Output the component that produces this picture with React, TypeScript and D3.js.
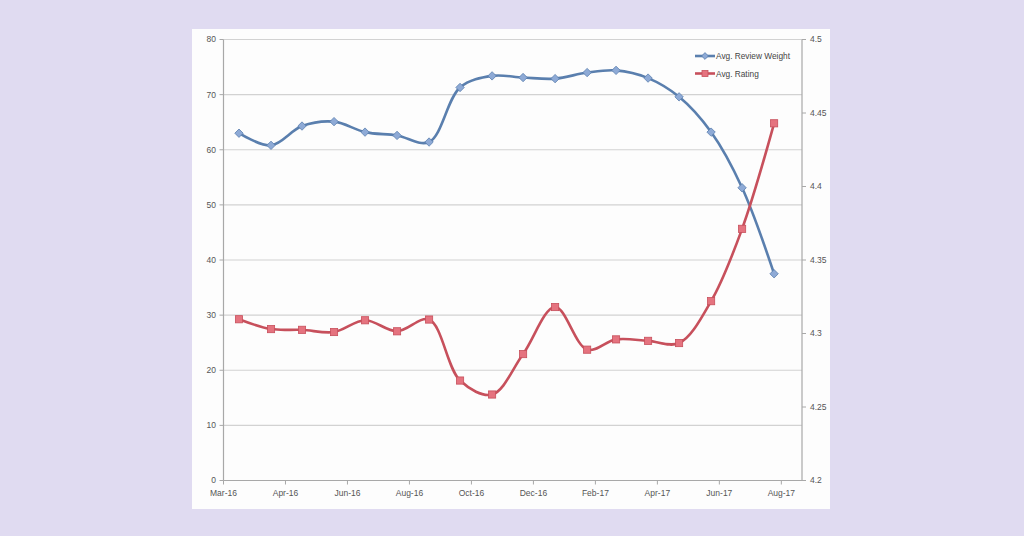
import React from "react";
import * as d3 from "d3";

const months = [
  "2016-03-16", "2016-04-16", "2016-05-16", "2016-06-16", "2016-07-16", "2016-08-16",
  "2016-09-16", "2016-10-16", "2016-11-16", "2016-12-16", "2017-01-16", "2017-02-16",
  "2017-03-16", "2017-04-16", "2017-05-16", "2017-06-16", "2017-07-16", "2017-08-16",
];
const reviewWeight = [63, 60.8, 64.3, 65.1, 63.2, 62.6, 61.4, 71.3, 73.4, 73.1, 72.9, 74.0, 74.4, 73.0, 69.6, 63.2, 53.1, 37.5];
const avgRating = [4.3097, 4.303, 4.3025, 4.301, 4.309, 4.3015, 4.3095, 4.268, 4.2585, 4.286, 4.318, 4.289, 4.296, 4.295, 4.2935, 4.322, 4.3712, 4.443];
const xTickDates = [
  "2016-03-01", "2016-04-30", "2016-06-29", "2016-08-28", "2016-10-27",
  "2016-12-26", "2017-02-24", "2017-04-25", "2017-06-24", "2017-08-23",
];
const leftTicks = [0, 10, 20, 30, 40, 50, 60, 70, 80];
const rightTicks = [4.2, 4.25, 4.3, 4.35, 4.4, 4.45, 4.5];
const xDomain = ["2016-03-01", "2017-09-12"];
const seriesNames = ["Avg. Review Weight", "Avg. Rating"];

const W = 1024, H = 536;
const plot = { left: 223.5, right: 802, top: 39.5, bottom: 480.5 };
const BLUE = "#5a7fae", BLUE_FILL = "#8eaad6";
const RED = "#c7505c", RED_FILL = "#e5737f";
const FONT = "'Liberation Sans', Arial, sans-serif";

export default function App() {
  const parse = d3.timeParse("%Y-%m-%d");
  const fmt = d3.timeFormat("%b-%y");
  const x = d3.scaleTime().domain(xDomain.map((d) => parse(d) as Date)).range([plot.left, plot.right]);
  const yL = d3.scaleLinear().domain([0, 80]).range([plot.bottom, plot.top]);
  const yR = d3.scaleLinear().domain([4.2, 4.5]).range([plot.bottom, plot.top]);
  const dates = months.map((d) => parse(d) as Date);

  const lineL = d3.line<number>().x((_, i) => x(dates[i])).y((d) => yL(d)).curve(d3.curveCatmullRom.alpha(0.5));
  const lineR = d3.line<number>().x((_, i) => x(dates[i])).y((d) => yR(d)).curve(d3.curveCatmullRom.alpha(0.5));

  const diamond = (cx: number, cy: number, r: number) => `M${cx},${cy - r}L${cx + r},${cy}L${cx},${cy + r}L${cx - r},${cy}Z`;

  return (
    <div style={{ position: "absolute", left: 0, top: 0 }}>
      <svg width={W} height={H} style={{ display: "block" }}>
        <rect x={0} y={0} width={W} height={H} fill="#e0dbf1" />
        <rect x={192} y={29} width={638} height={480} fill="#fdfdfd" />
        {/* gridlines */}
        {leftTicks.map((t) => (
          <line key={"g" + t} x1={plot.left} x2={plot.right} y1={yL(t)} y2={yL(t)} stroke="#d2d2d2" strokeWidth={1.2} />
        ))}
        {/* axes */}
        <line x1={plot.left} x2={plot.left} y1={plot.top} y2={plot.bottom} stroke="#a8a8a8" strokeWidth={1.2} />
        <line x1={plot.right} x2={plot.right} y1={plot.top} y2={plot.bottom} stroke="#a8a8a8" strokeWidth={1.2} />
        <line x1={plot.left} x2={plot.right} y1={plot.bottom} y2={plot.bottom} stroke="#a8a8a8" strokeWidth={1.2} />
        {leftTicks.map((t) => (
          <g key={"l" + t}>
            <line x1={plot.left - 4} x2={plot.left} y1={yL(t)} y2={yL(t)} stroke="#a8a8a8" />
            <text x={216} y={yL(t)} dy="0.35em" textAnchor="end" fontSize={8.5} fill="#555" fontFamily={FONT}>{t}</text>
          </g>
        ))}
        {rightTicks.map((t) => (
          <g key={"r" + t}>
            <line x1={plot.right} x2={plot.right + 4} y1={yR(t)} y2={yR(t)} stroke="#a8a8a8" />
            <text x={810} y={yR(t)} dy="0.35em" textAnchor="start" fontSize={8.5} fill="#555" fontFamily={FONT}>{d3.format("")(+t.toFixed(2))}</text>
          </g>
        ))}
        {xTickDates.map((d) => {
          const dt = parse(d) as Date;
          return (
            <g key={"x" + d}>
              <line x1={x(dt)} x2={x(dt)} y1={plot.bottom} y2={plot.bottom + 4} stroke="#a8a8a8" />
              <text x={x(dt)} y={496} textAnchor="middle" fontSize={8.5} fill="#555" fontFamily={FONT}>{fmt(dt)}</text>
            </g>
          );
        })}
        {/* series */}
        <path d={lineL(reviewWeight) || ""} fill="none" stroke={BLUE} strokeWidth={2.6} />
        <path d={lineR(avgRating) || ""} fill="none" stroke={RED} strokeWidth={2.6} />
        {reviewWeight.map((v, i) => (
          <path key={"bm" + i} d={diamond(x(dates[i]), yL(v), 4.2)} fill={BLUE_FILL} stroke={BLUE} strokeWidth={0.8} />
        ))}
        {avgRating.map((v, i) => (
          <rect key={"rm" + i} x={x(dates[i]) - 3.6} y={yR(v) - 3.6} width={7.2} height={7.2} fill={RED_FILL} stroke={RED} strokeWidth={0.8} />
        ))}
        {/* legend */}
        <g>
          <line x1={695} x2={715} y1={56} y2={56} stroke={BLUE} strokeWidth={2.6} />
          <path d={diamond(705, 56, 3.4)} fill={BLUE_FILL} stroke={BLUE} strokeWidth={0.8} />
          <text x={716} y={59} fontSize={8.3} fill="#444" fontFamily={FONT}>{seriesNames[0]}</text>
          <line x1={695} x2={715} y1={73.5} y2={73.5} stroke={RED} strokeWidth={2.6} />
          <rect x={702} y={70.5} width={6} height={6} fill={RED_FILL} stroke={RED} strokeWidth={0.8} />
          <text x={716} y={76.5} fontSize={8.3} fill="#444" fontFamily={FONT}>{seriesNames[1]}</text>
        </g>
      </svg>
    </div>
  );
}
